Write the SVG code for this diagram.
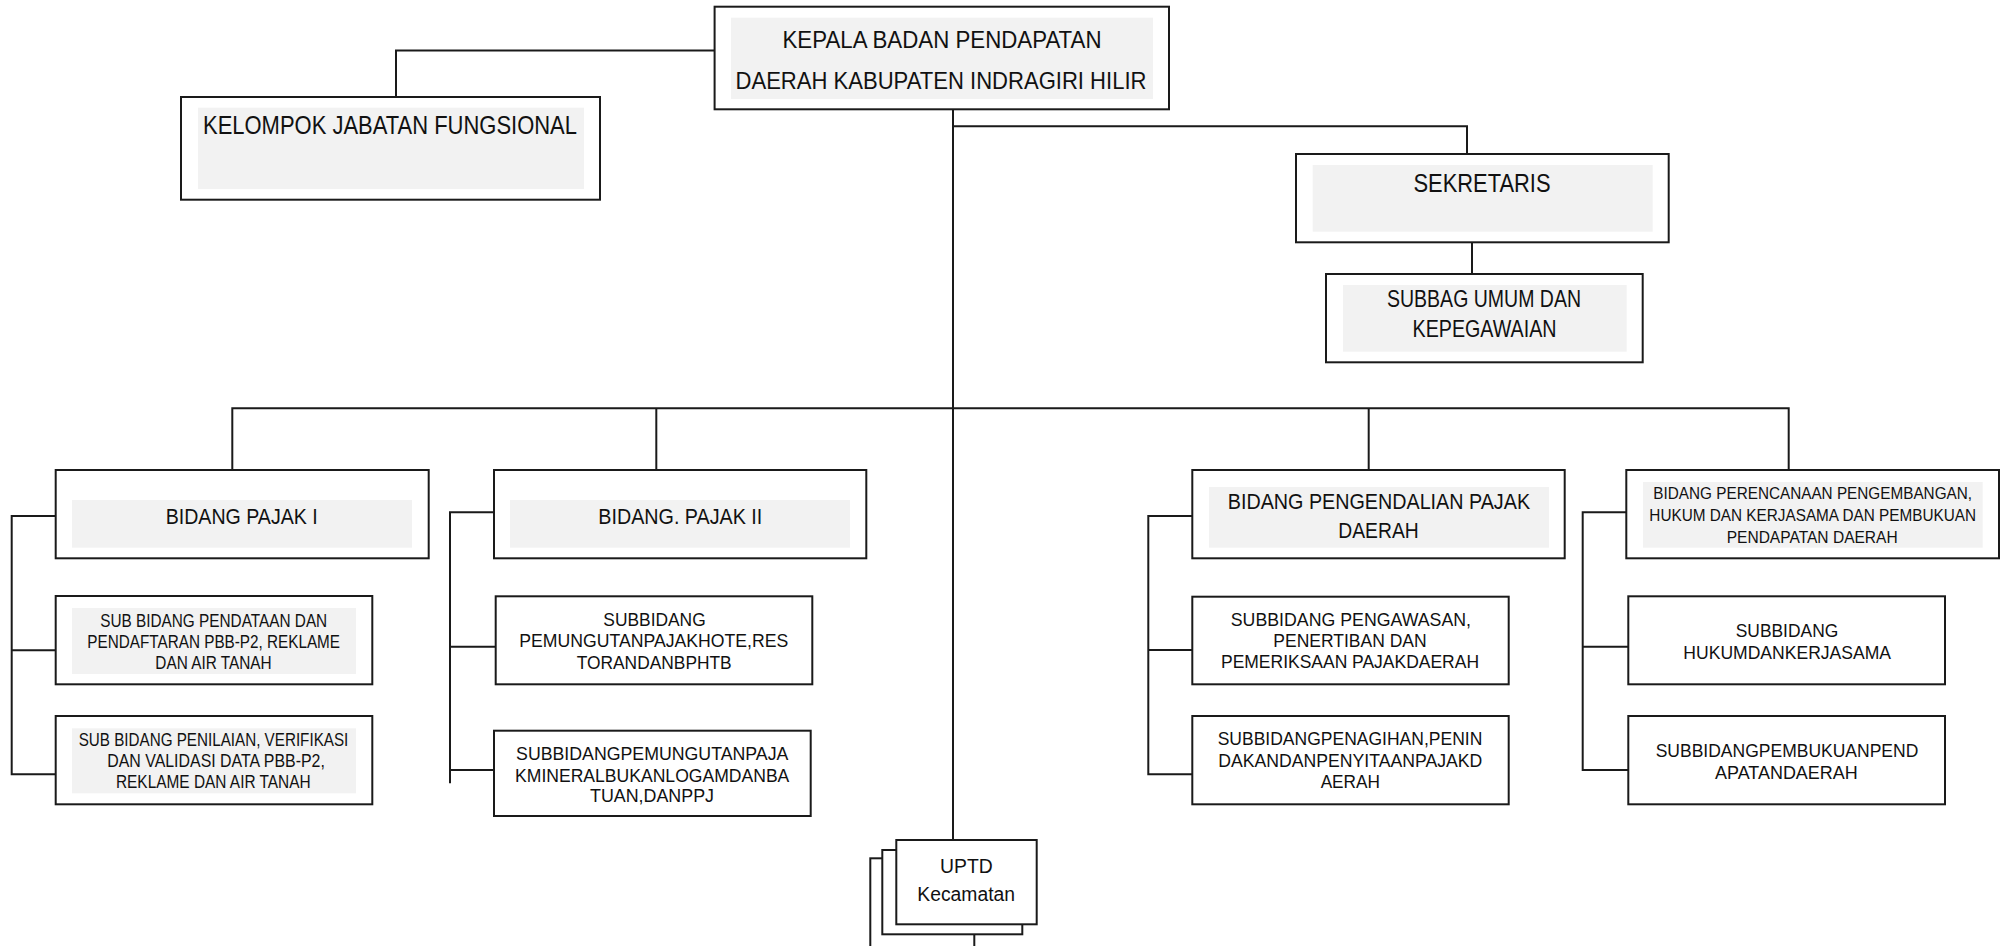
<svg xmlns="http://www.w3.org/2000/svg" width="2010" height="946" viewBox="0 0 2010 946">
<style>
.box{fill:#fff;stroke:#1a1a1a;stroke-width:2}
.g{fill:#f2f2f2;stroke:none}
.c{fill:none;stroke:#1a1a1a;stroke-width:2}
text{font-family:"Liberation Sans",Arial,sans-serif;fill:#111;text-anchor:middle}
.f24{font-size:24px}.f25{font-size:25.5px}.f22{font-size:22px}.f18{font-size:18.5px}.f17{font-size:17.5px}.f16{font-size:16px}.f20{font-size:20px}
</style>
<rect width="2010" height="946" fill="#fff"/>
<g id="connectors">
<path class="c" d="M396 97V50.5H714.6"/>
<path class="c" d="M953 109.3V840"/>
<path class="c" d="M953 126.3H1467V154"/>
<path class="c" d="M1472 242.3V274"/>
<path class="c" d="M232.3 470V408.3H1788.7V470"/>
<path class="c" d="M656.3 408.3V470"/>
<path class="c" d="M1368.7 408.3V470"/>
<path class="c" d="M55.7 516H11.7V774.3H55.7M11.7 650.3H55.7"/>
<path class="c" d="M494 512.3H450V783.3M450 646.7H495.7M450 770H494"/>
<path class="c" d="M1192.3 516H1148.3V774.3H1192.3M1148.3 650H1192.3"/>
<path class="c" d="M1626.3 512.3H1582.7V770H1628.3M1582.7 646.7H1628.3"/>
</g>
<g id="kepala">
<rect class="box" x="714.6" y="6.7" width="454.4" height="102.6"/>
<rect class="g" x="731" y="17.7" width="422" height="81.3"/>
<text class="f24" x="942" y="47.7" textLength="319" lengthAdjust="spacingAndGlyphs">KEPALA BADAN PENDAPATAN</text>
<text class="f24" x="941" y="89.3" textLength="411" lengthAdjust="spacingAndGlyphs">DAERAH KABUPATEN INDRAGIRI HILIR</text>
</g>
<g id="kelompok">
<rect class="box" x="181" y="97" width="419" height="102.7"/>
<rect class="g" x="198" y="107.7" width="386" height="81.3"/>
<text class="f25" x="390" y="134" textLength="374" lengthAdjust="spacingAndGlyphs">KELOMPOK JABATAN FUNGSIONAL</text>
</g>
<g id="sekretaris">
<rect class="box" x="1296" y="154" width="372.7" height="88.3"/>
<rect class="g" x="1312.7" y="165" width="340" height="66.7"/>
<text class="f25" x="1482" y="191.7" textLength="137" lengthAdjust="spacingAndGlyphs">SEKRETARIS</text>
</g>
<g id="subbag">
<rect class="box" x="1326" y="274" width="316.7" height="88.3"/>
<rect class="g" x="1343" y="285" width="283.7" height="66.7"/>
<text class="f24" x="1484" y="307.3" textLength="194" lengthAdjust="spacingAndGlyphs">SUBBAG UMUM DAN</text>
<text class="f24" x="1484.5" y="336.7" textLength="144" lengthAdjust="spacingAndGlyphs">KEPEGAWAIAN</text>
</g>
<g id="pajak1">
<rect class="box" x="55.7" y="470" width="373" height="88.3"/>
<rect class="g" x="72" y="500" width="340" height="47.7"/>
<text class="f22" x="241.7" y="524.3" textLength="152" lengthAdjust="spacingAndGlyphs">BIDANG PAJAK I</text>
</g>
<g id="pajak1-sub1">
<rect class="box" x="55.7" y="596" width="316.6" height="88.3"/>
<rect class="g" x="72" y="608" width="284" height="66"/>
<text class="f18" x="213.7" y="626.7" textLength="227" lengthAdjust="spacingAndGlyphs">SUB BIDANG PENDATAAN DAN</text>
<text class="f18" x="213.7" y="647.7" textLength="252.7" lengthAdjust="spacingAndGlyphs">PENDAFTARAN PBB-P2, REKLAME</text>
<text class="f18" x="213.5" y="668.7" textLength="116.4" lengthAdjust="spacingAndGlyphs">DAN AIR TANAH</text>
</g>
<g id="pajak1-sub2">
<rect class="box" x="55.7" y="716" width="316.6" height="88.3"/>
<rect class="g" x="72" y="728.3" width="284" height="65"/>
<text class="f18" x="213.5" y="746" textLength="269.6" lengthAdjust="spacingAndGlyphs">SUB BIDANG PENILAIAN, VERIFIKASI</text>
<text class="f18" x="216" y="766.7" textLength="217.7" lengthAdjust="spacingAndGlyphs">DAN VALIDASI DATA PBB-P2,</text>
<text class="f18" x="213.3" y="788.3" textLength="194.7" lengthAdjust="spacingAndGlyphs">REKLAME DAN AIR TANAH</text>
</g>
<g id="pajak2">
<rect class="box" x="494" y="470" width="372.3" height="88.3"/>
<rect class="g" x="510" y="500" width="340" height="47.7"/>
<text class="f22" x="680.3" y="524.3" textLength="164" lengthAdjust="spacingAndGlyphs">BIDANG. PAJAK II</text>
</g>
<g id="pajak2-sub1">
<rect class="box" x="495.7" y="596.3" width="316.6" height="88"/>
<text class="f17" x="654.5" y="626" textLength="102.4" lengthAdjust="spacingAndGlyphs">SUBBIDANG</text>
<text class="f17" x="653.8" y="646.7" textLength="269" lengthAdjust="spacingAndGlyphs">PEMUNGUTANPAJAKHOTE,RES</text>
<text class="f17" x="654.2" y="668.7" textLength="155" lengthAdjust="spacingAndGlyphs">TORANDANBPHTB</text>
</g>
<g id="pajak2-sub2">
<rect class="box" x="494" y="730.7" width="316.7" height="85.3"/>
<text class="f17" x="652.2" y="760" textLength="272.3" lengthAdjust="spacingAndGlyphs">SUBBIDANGPEMUNGUTANPAJA</text>
<text class="f17" x="652.2" y="781.7" textLength="274.3" lengthAdjust="spacingAndGlyphs">KMINERALBUKANLOGAMDANBA</text>
<text class="f17" x="652" y="801.7" textLength="124" lengthAdjust="spacingAndGlyphs">TUAN,DANPPJ</text>
</g>
<g id="pengendalian">
<rect class="box" x="1192.3" y="470" width="372.4" height="88.3"/>
<rect class="g" x="1209" y="487" width="340" height="60.7"/>
<text class="f22" x="1378.9" y="509.3" textLength="302.3" lengthAdjust="spacingAndGlyphs">BIDANG PENGENDALIAN PAJAK</text>
<text class="f22" x="1378.5" y="537.7" textLength="80.4" lengthAdjust="spacingAndGlyphs">DAERAH</text>
</g>
<g id="pengendalian-sub1">
<rect class="box" x="1192.3" y="596.7" width="316.4" height="87.6"/>
<text class="f17" x="1350.9" y="626" textLength="240.3" lengthAdjust="spacingAndGlyphs">SUBBIDANG PENGAWASAN,</text>
<text class="f17" x="1350" y="646.7" textLength="153.4" lengthAdjust="spacingAndGlyphs">PENERTIBAN DAN</text>
<text class="f17" x="1350" y="668.3" textLength="258" lengthAdjust="spacingAndGlyphs">PEMERIKSAAN PAJAKDAERAH</text>
</g>
<g id="pengendalian-sub2">
<rect class="box" x="1192.3" y="716" width="316.4" height="88.3"/>
<text class="f17" x="1350" y="745.3" textLength="264.6" lengthAdjust="spacingAndGlyphs">SUBBIDANGPENAGIHAN,PENIN</text>
<text class="f17" x="1350.3" y="766.7" textLength="264" lengthAdjust="spacingAndGlyphs">DAKANDANPENYITAANPAJAKD</text>
<text class="f17" x="1350.3" y="788.3" textLength="59.3" lengthAdjust="spacingAndGlyphs">AERAH</text>
</g>
<g id="perencanaan">
<rect class="box" x="1626.3" y="470" width="372.7" height="88.3"/>
<rect class="g" x="1643" y="482" width="339.7" height="65.7"/>
<text class="f16" x="1812.7" y="499" textLength="318.7" lengthAdjust="spacingAndGlyphs">BIDANG PERENCANAAN PENGEMBANGAN,</text>
<text class="f16" x="1812.7" y="521.3" textLength="326.7" lengthAdjust="spacingAndGlyphs">HUKUM DAN KERJASAMA DAN PEMBUKUAN</text>
<text class="f16" x="1812.2" y="542.7" textLength="171" lengthAdjust="spacingAndGlyphs">PENDAPATAN DAERAH</text>
</g>
<g id="perencanaan-sub1">
<rect class="box" x="1628.3" y="596.3" width="316.7" height="88"/>
<text class="f17" x="1787" y="637.3" textLength="102.6" lengthAdjust="spacingAndGlyphs">SUBBIDANG</text>
<text class="f17" x="1787.2" y="659.3" textLength="207.7" lengthAdjust="spacingAndGlyphs">HUKUMDANKERJASAMA</text>
</g>
<g id="perencanaan-sub2">
<rect class="box" x="1628.3" y="716" width="316.7" height="88.3"/>
<text class="f17" x="1787" y="757.3" textLength="262.6" lengthAdjust="spacingAndGlyphs">SUBBIDANGPEMBUKUANPEND</text>
<text class="f17" x="1786.4" y="779" textLength="142.7" lengthAdjust="spacingAndGlyphs">APATANDAERAH</text>
</g>
<g id="uptd">
<rect class="box" x="870.3" y="858.3" width="104" height="100"/>
<rect class="box" x="882.3" y="850" width="140" height="84.3"/>
<rect class="box" x="896.3" y="840" width="140.4" height="84.3"/>
<text class="f20" x="966.4" y="873.3" textLength="52.7" lengthAdjust="spacingAndGlyphs">UPTD</text>
<text class="f20" x="966.2" y="900.7" textLength="97.7" lengthAdjust="spacingAndGlyphs">Kecamatan</text>
</g>
</svg>
